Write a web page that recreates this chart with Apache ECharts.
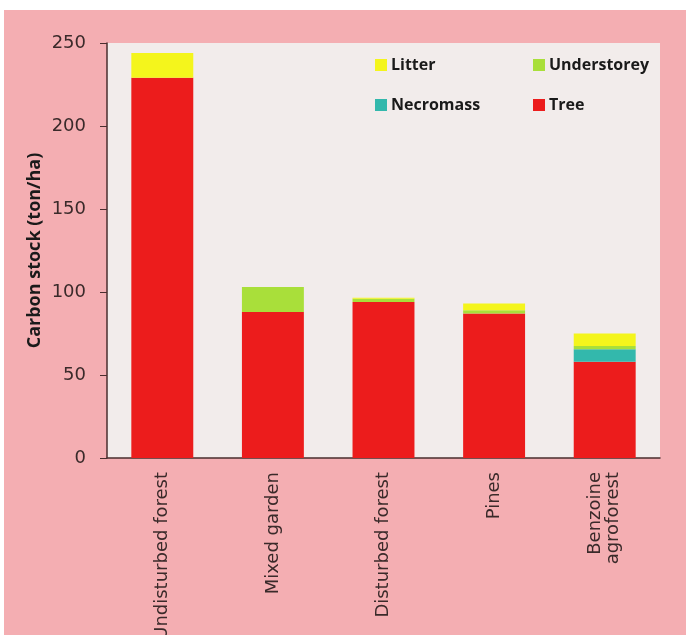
<!DOCTYPE html>
<html>
<head>
<meta charset="utf-8">
<script src="https://cdn.jsdelivr.net/npm/echarts@6/dist/echarts.min.js"></script>
<style>
  html, body { margin: 0; padding: 0; background: #ffffff; }
  #chart { position: absolute; left: 4px; top: 10px; width: 682px; height: 625px; }
</style>
</head>
<body>
<div id="chart"></div>
<script>
// categories and stacked values (ton/ha)
const sites = ['Undisturbed forest', 'Mixed garden', 'Disturbed forest', 'Pines', 'Benzoine\nagroforest'];
const tree = [229, 88, 94, 87, 58];
const necromass = [0, 0, 0, 0, 7.5];
const understorey = [0, 15, 2, 2, 2];
const litter = [15, 0, 0.5, 4, 7.5];
const yTicks = [0, 50, 100, 150, 200, 250];

const chart = echarts.init(document.getElementById('chart'));

const legendItem = (name, left, top) => ({
    data: [name],
    left: left,
    top: top,
    itemWidth: 12,
    itemHeight: 12,
    itemGap: 4,
    icon: 'rect',
    textStyle: { color: '#1a1a1a', fontSize: 16, fontWeight: 'bold', fontFamily: 'Open Sans', padding: [0, 0, 0, -1] }
});

const option = {
    backgroundColor: '#F4AEB2',
    animation: false,
    legend: [
        legendItem('Litter', 366, 42),
        legendItem('Understorey', 524, 42),
        legendItem('Necromass', 366, 82),
        legendItem('Tree', 524, 82)
    ],
    grid: {
        left: 103, top: 33, width: 553, height: 415,
        outerBoundsMode: 'none', containLabel: false,
        show: true, backgroundColor: '#F2ECEB', borderWidth: 0
    },
    xAxis: {
        type: 'category',
        data: sites,
        axisLine: { lineStyle: { color: '#4a2e2e', width: 1.5 } },
        axisTick: { show: false },
        axisLabel: {
            rotate: 90, interval: 0, margin: 14,
            color: '#3a2a2a', fontSize: 18, fontFamily: 'DejaVu Sans', lineHeight: 18
        }
    },
    yAxis: {
        type: 'value',
        min: yTicks[0], max: yTicks[yTicks.length - 1], interval: 50,
        name: 'Carbon stock (ton/ha)',
        nameLocation: 'middle',
        nameGap: 63,
        nameMoveOverlap: false,
        nameTextStyle: { color: '#1a1a1a', fontSize: 18, fontWeight: 'bold', fontFamily: 'Open Sans' },
        splitLine: { show: false },
        axisLine: { show: true, lineStyle: { color: '#4a2e2e', width: 1.5 } },
        axisTick: { show: true, length: 7, lineStyle: { color: '#4a2e2e' } },
        axisLabel: { color: '#3a2a2a', fontSize: 18, fontFamily: 'DejaVu Sans', margin: 21 }
    },
    series: [
        { name: 'Tree', type: 'bar', stack: 'c', data: tree, barWidth: '56%', itemStyle: { color: '#EC1C1C' } },
        { name: 'Necromass', type: 'bar', stack: 'c', data: necromass, itemStyle: { color: '#33B8AC' } },
        { name: 'Understorey', type: 'bar', stack: 'c', data: understorey, itemStyle: { color: '#A9DF3A' } },
        { name: 'Litter', type: 'bar', stack: 'c', data: litter, itemStyle: { color: '#F4F51C' } }
    ]
};
chart.setOption(option);
</script>
</body>
</html>
